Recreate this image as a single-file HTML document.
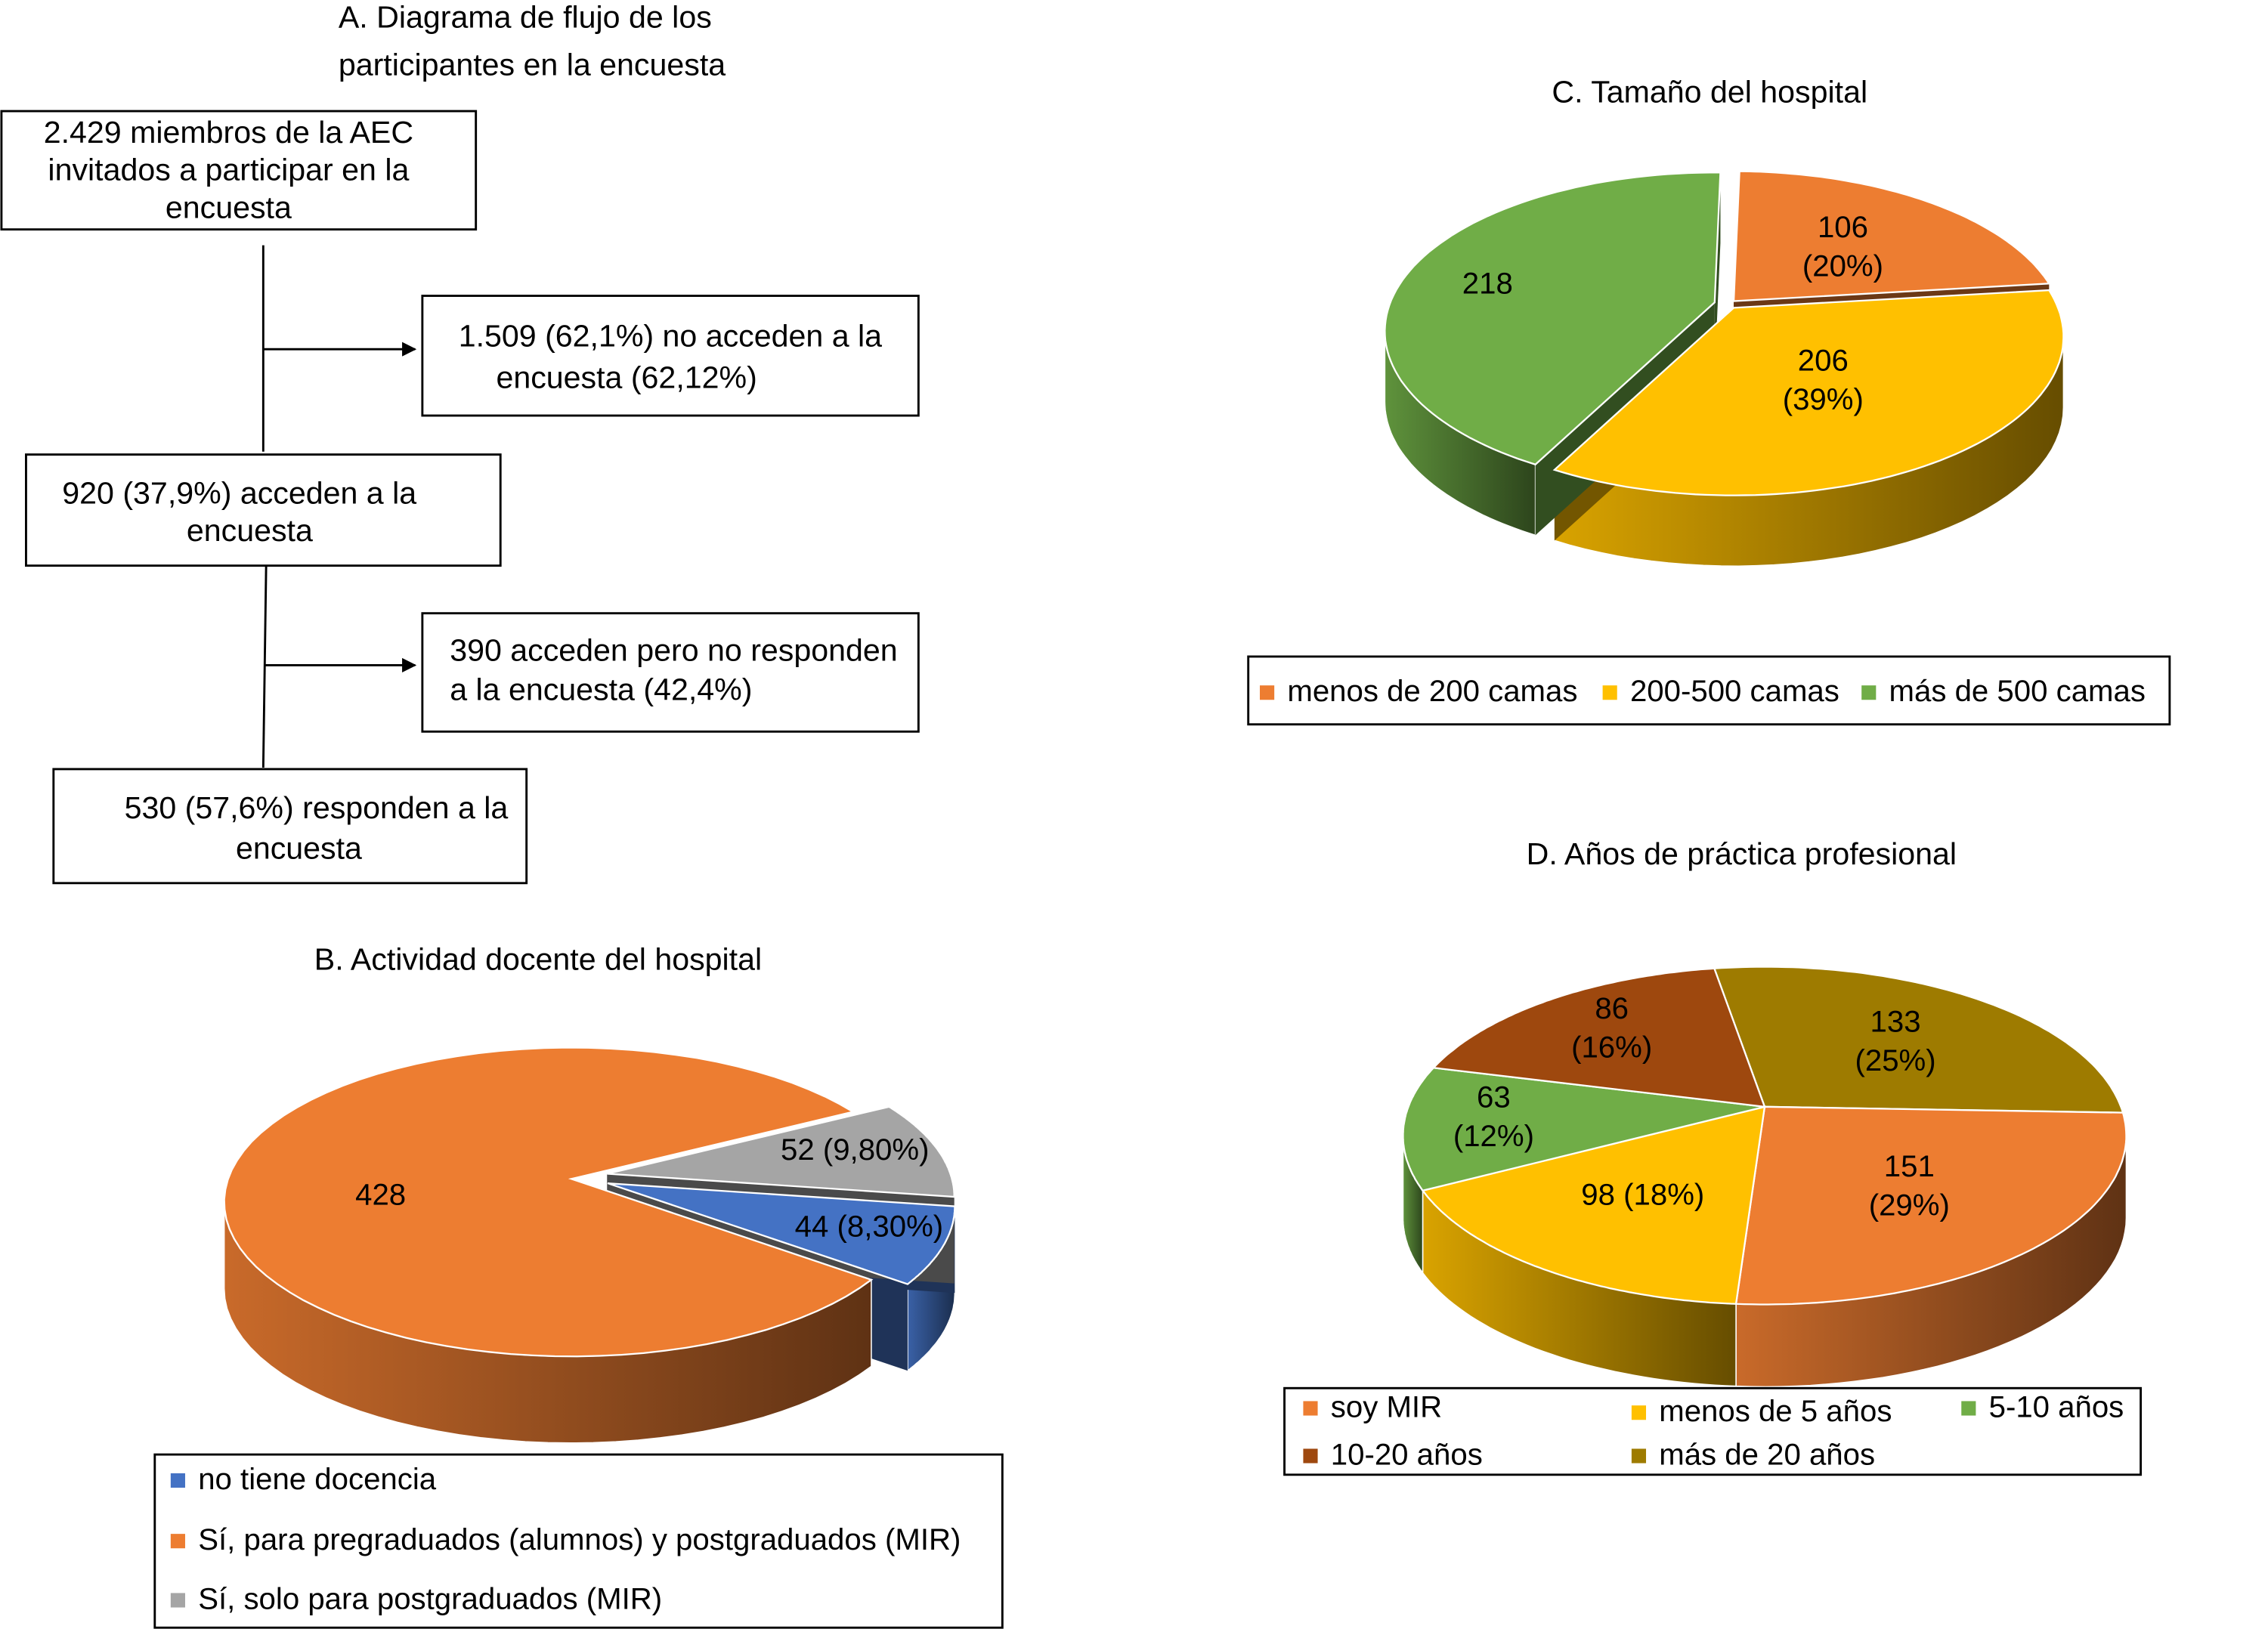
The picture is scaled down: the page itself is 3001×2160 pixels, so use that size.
<!DOCTYPE html>
<html><head><meta charset="utf-8">
<style>
html,body{margin:0;padding:0;background:#fff;}
svg{display:block;font-family:"Liberation Sans",Arial,sans-serif;}
</style></head>
<body>
<svg id="root" width="3001" height="2160" viewBox="0 0 1568 1131" preserveAspectRatio="none" xmlns="http://www.w3.org/2000/svg" xml:space="preserve">
<defs>
<marker id="arr" markerWidth="10" markerHeight="10" refX="9" refY="5" orient="auto" markerUnits="userSpaceOnUse"><path d="M0,0 L10,5 L0,10 z" fill="#000"/></marker>
</defs>
<g id="flow" font-size="21.5" fill="#000">
<text x="234" y="19">A. Diagrama de flujo  de los</text>
<text x="234" y="52">participantes en la encuesta</text>
<rect x="1" y="77" width="328" height="82" fill="#fff" stroke="#000" stroke-width="1.5"/>
<text text-anchor="middle" x="158"><tspan x="158" y="99">2.429 miembros de la AEC</tspan><tspan x="158" y="125">invitados a participar en la</tspan><tspan x="158" y="151">encuesta</tspan></text>
<line x1="182" y1="170" x2="182" y2="313" stroke="#000" stroke-width="1.5"/>
<line x1="182" y1="242" x2="287" y2="242" stroke="#000" stroke-width="1.5" marker-end="url(#arr)"/>
<rect x="292" y="205" width="343" height="83" fill="#fff" stroke="#000" stroke-width="1.5"/>
<text><tspan x="317" y="240">1.509 (62,1%) no acceden a la</tspan><tspan x="343" y="269">encuesta (62,12%)</tspan></text>
<rect x="18" y="315" width="328" height="77" fill="#fff" stroke="#000" stroke-width="1.5"/>
<text><tspan x="43" y="349">920  (37,9%)  acceden a la</tspan><tspan x="129" y="375">encuesta</tspan></text>
<line x1="184" y1="392" x2="182" y2="532" stroke="#000" stroke-width="1.5"/>
<line x1="183" y1="461" x2="287" y2="461" stroke="#000" stroke-width="1.5" marker-end="url(#arr)"/>
<rect x="292" y="425" width="343" height="82" fill="#fff" stroke="#000" stroke-width="1.5"/>
<text><tspan x="311" y="458">390 acceden pero no responden</tspan><tspan x="311" y="485">a la encuesta (42,4%)</tspan></text>
<rect x="37" y="533" width="327" height="79" fill="#fff" stroke="#000" stroke-width="1.5"/>
<text><tspan x="86" y="567">530 (57,6%)  responden a la</tspan><tspan x="163" y="595">encuesta</tspan></text>
</g>
<g id="pieB"></g>
<g id="pieC"></g>
<g id="pieD"></g>
</svg>
<script>
// ---- data ----
const bLabels = ["no tiene docencia","Sí, para pregraduados (alumnos) y postgraduados (MIR)","Sí, solo para postgraduados (MIR)"];
const bValues = [44, 428, 52];
const bPrinted = ["44 (8,30%)","428","52 (9,80%)"];
const bColors = ["#4472c4","#ed7d31","#a5a5a5"];

const cLabels = ["menos de 200 camas","200-500 camas","más de 500 camas"];
const cValues = [106, 206, 218];
const cPrinted = [["106","(20%)"],["206","(39%)"],["218"]];
const cColors = ["#ed7d31","#ffc000","#70ad47"];

const dLabels = ["más de 20 años","soy MIR","menos de 5 años","5-10 años","10-20 años"];
const dValues = [133, 151, 98, 63, 86];
const dPrinted = [["133","(25%)"],["151","(29%)"],["98 (18%)"],["63","(12%)"],["86","(16%)"]];
const dColors = ["#9e7b00","#ed7d31","#ffc000","#70ad47","#9e480e"];

const NS="http://www.w3.org/2000/svg";
function mk(parent, tag, attrs){const e=document.createElementNS(NS,tag);for(const k in attrs)e.setAttribute(k,attrs[k]);parent.appendChild(e);return e;}
function shade(hex,f){const n=parseInt(hex.slice(1),16);let r=n>>16,g=(n>>8)&255,b=n&255;return `rgb(${Math.round(r*f)},${Math.round(g*f)},${Math.round(b*f)})`;}
let gid=0;
function pie3d(g, cx, cy, rx, ry, depth, values, colors, startDeg, explode, lblFactor, printed, names, apexDy){
  const total=values.reduce((a,b)=>a+b,0);
  const defs=mk(document.getElementById('root'),'defs',{});
  let a=startDeg*Math.PI/180;
  const slices=values.map((v,i)=>{const s=a;const e=a+v/total*2*Math.PI;a=e;const m=(s+e)/2;
    const ex=explode[i]||0;return {s,e,m,i,ox:ex*Math.cos(m),oy:ex*Math.sin(m)*ry/rx};});
  const P=(sl,t,dz,k)=>[cx+sl.ox+rx*(k===undefined?1:k)*Math.cos(t), cy+sl.oy+ry*(k===undefined?1:k)*Math.sin(t)+dz];
  const A=(sl,dz)=>[cx+sl.ox, cy+sl.oy+apexDy+dz];
  slices.forEach(sl=>{
    const gradId='pg'+(gid++);
    const lg=mk(defs,'linearGradient',{id:gradId,x1:'0',y1:'0',x2:'1',y2:'0'});
    mk(lg,'stop',{offset:'0','stop-color':shade(colors[sl.i],0.85)});
    mk(lg,'stop',{offset:'1','stop-color':shade(colors[sl.i],0.4)});
    for(let k=-1;k<=2;k++){
      const lo=Math.max(sl.s,k*2*Math.PI), hi=Math.min(sl.e,k*2*Math.PI+Math.PI);
      if(hi>lo){
        let d='';const N=40;
        for(let j=0;j<=N;j++){const t=lo+(hi-lo)*j/N;const p=P(sl,t,0);d+=(j?'L':'M')+p[0].toFixed(1)+','+p[1].toFixed(1);}
        for(let j=N;j>=0;j--){const t=lo+(hi-lo)*j/N;const p=P(sl,t,depth);d+='L'+p[0].toFixed(1)+','+p[1].toFixed(1);}
        const side=mk(g,'path',{d:d+'Z',fill:`url(#${gradId})`,stroke:'#fff','stroke-width':'0.8'});
        
        
      }
    }
    if(explode[sl.i]){
      [sl.s,sl.e].forEach(t=>{const c0=A(sl,0),c1=P(sl,t,0);
        const d=`M${c0[0]},${c0[1]}L${c1[0]},${c1[1]}L${c1[0]},${c1[1]+depth}L${c0[0]},${c0[1]+depth}Z`;
        const f=mk(g,'path',{d,fill:shade(colors[sl.i],0.45)});
        
        });
    }
  });
  slices.forEach(sl=>{
    const c=A(sl,0);let d=`M${c[0]},${c[1]}`;const N=80;
    for(let j=0;j<=N;j++){const t=sl.s+(sl.e-sl.s)*j/N;const p=P(sl,t,0);d+='L'+p[0].toFixed(1)+','+p[1].toFixed(1);}
    const top=mk(g,'path',{d:d+'Z',fill:colors[sl.i],stroke:'#fff','stroke-width':'1.2'});
    
    
  });
  slices.forEach(sl=>{
    const lf=lblFactor[sl.i];const p=P(sl,sl.m,apexDy*0.5,lf);
    const lines=Array.isArray(printed[sl.i])?printed[sl.i]:[printed[sl.i]];
    const t=mk(g,'text',{x:p[0],y:p[1]-(lines.length-1)*13+7,'text-anchor':'middle','font-size':'21',fill:'#000'});
    
    
    lines.forEach((ln,j)=>{const ts=mk(t,'tspan',{x:p[0],dy:j?27:0});ts.textContent=ln;});
  });
}
function title(g,x,y,txt){const t=mk(g,'text',{x,y,'text-anchor':'middle','font-size':'21.5'});t.textContent=txt;
  
  }
function legendBox(g,x,y,w,h){const r=mk(g,'rect',{x,y,width:w,height:h,fill:'#fff',stroke:'#000','stroke-width':'1.5'});
  
  }
function legendEntry(g,x,y,color,txt){
  const s=mk(g,'rect',{x,y:y-11,width:10,height:10,fill:color});
  
  
  const t=mk(g,'text',{x:x+19,y:y,'font-size':'21'});t.textContent=txt;
  
  
}
// Chart B
const gB=document.getElementById('pieB');
title(gB,372,672,"B. Actividad docente del hospital");
pie3d(gB,395,833,240,107,60,bValues,bColors,0,[26,0,26],[0.78,0.55,0.75],bPrinted,bLabels,-16);
legendBox(gB,107,1008,586,120);
legendEntry(gB,118,1032,bColors[0],bLabels[0]);
legendEntry(gB,118,1074,bColors[1],bLabels[1]);
legendEntry(gB,118,1115,bColors[2],bLabels[2]);
// Chart C
const gC=document.getElementById('pieC');
title(gC,1182,71,"C. Tamaño del hospital");
pie3d(gC,1195,231,228,110,49,cValues,cColors,-89,[6,6,10],[0.55,0.45,0.72],cPrinted,cLabels,-20);
legendBox(gC,863,455,637,47);
legendEntry(gC,871,486,cColors[0],cLabels[0]);
legendEntry(gC,1108,486,cColors[1],cLabels[1]);
legendEntry(gC,1287,486,cColors[2],cLabels[2]);
// Chart D
const gD=document.getElementById('pieD');
title(gD,1204,599,"D. Años de práctica profesional");
pie3d(gD,1220,787,250,117,57,dValues,dColors,-98,[0,0,0,0,0],[0.6,0.55,0.55,0.75,0.7],dPrinted,dLabels,-20);
legendBox(gD,888,962,592,60);
legendEntry(gD,901,982,dColors[1],dLabels[1]);
legendEntry(gD,1128,985,dColors[2],dLabels[2]);
legendEntry(gD,1356,982,dColors[3],dLabels[3]);
legendEntry(gD,901,1015,dColors[4],dLabels[4]);
legendEntry(gD,1128,1015,dColors[0],dLabels[0]);
</script>
</body></html>
